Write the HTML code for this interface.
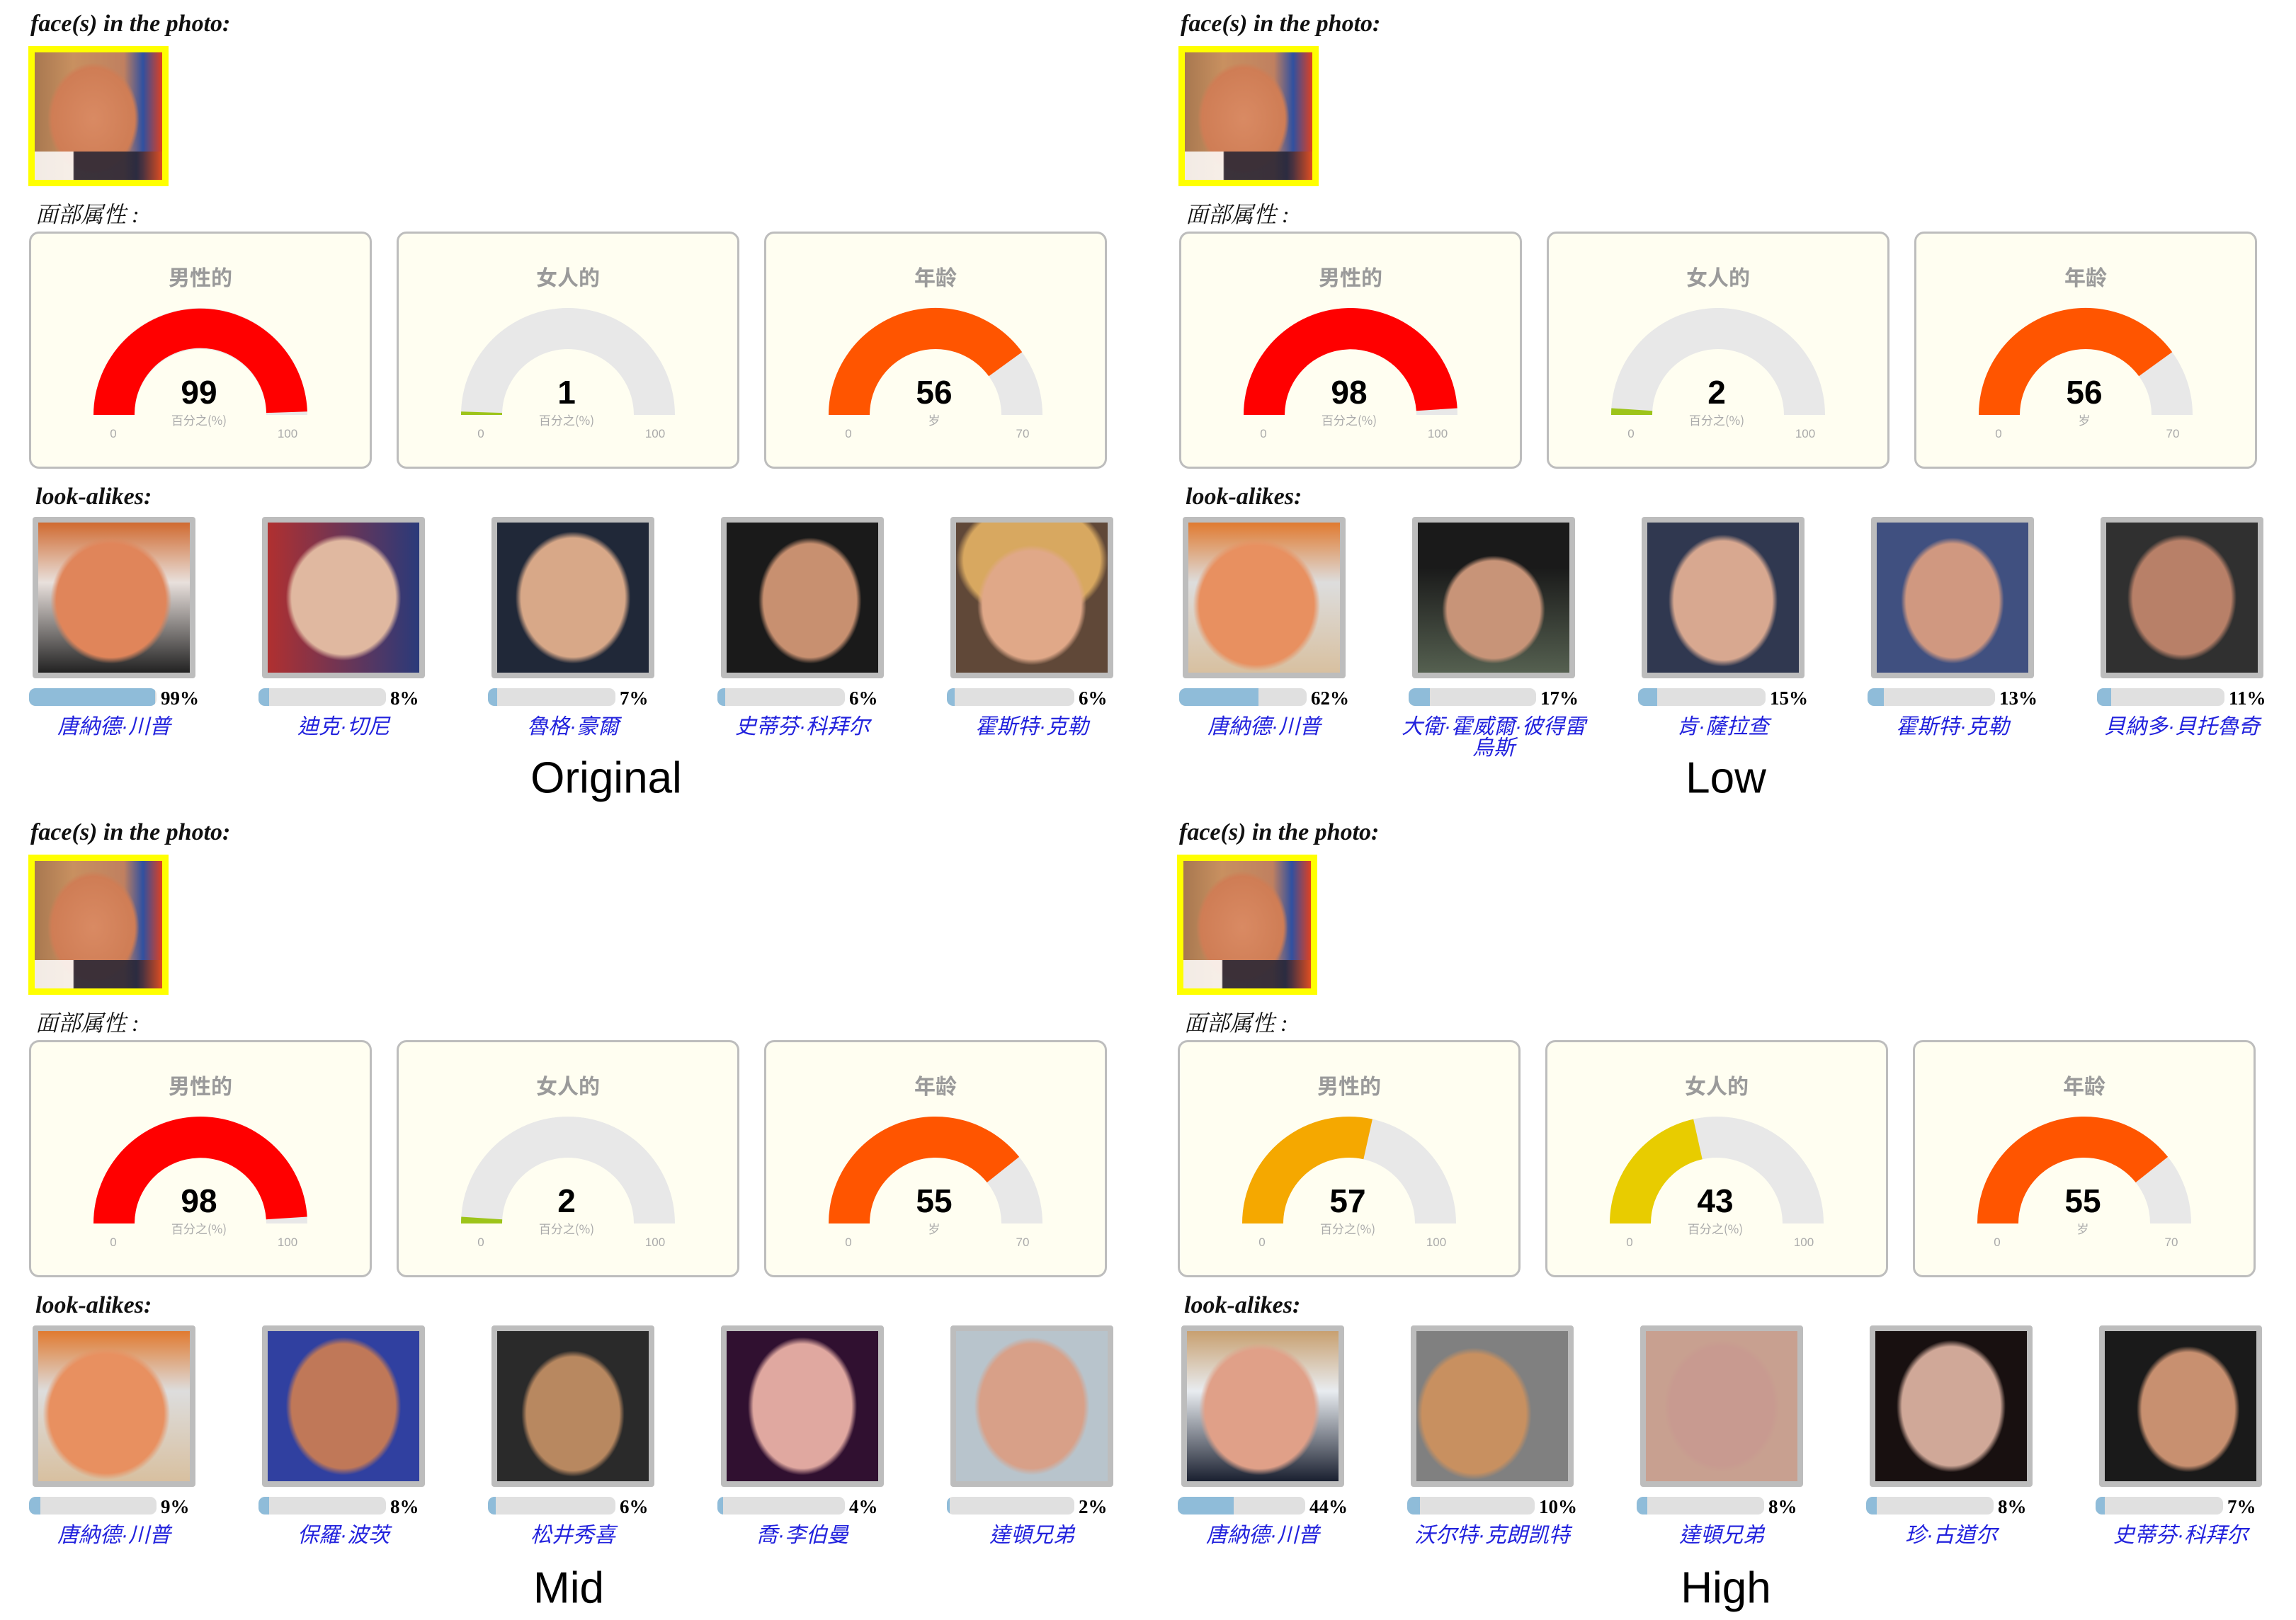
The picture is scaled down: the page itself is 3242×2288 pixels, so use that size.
<!DOCTYPE html>
<html><head><meta charset="utf-8">
<style>
*{margin:0;padding:0;box-sizing:border-box}
body{width:3242px;height:2288px;background:#fff;position:relative;overflow:hidden;font-family:"Liberation Sans","Noto Sans CJK SC",sans-serif}
.p{position:absolute;width:1620px;height:1140px}
.h{position:absolute;font-family:"Liberation Serif","Noto Serif CJK SC",serif;font-style:italic;font-weight:bold;font-size:34px;color:#111;white-space:nowrap}
.h2{position:absolute;font-family:"Liberation Serif","Noto Serif CJK SC",serif;font-style:italic;font-size:32px;color:#111;white-space:nowrap}
.face{position:absolute;left:40px;top:65px;width:198px;height:198px;border:9px solid #ffff00;background:radial-gradient(ellipse 36% 44% at 46% 52%,#d98a63 0,#cf7d55 90%,rgba(0,0,0,0) 100%),linear-gradient(90deg,#a87850 0,#c89060 30%,#c08060 70%,#3050a0 85%,#e04020 100%)}
.face:after{content:"";position:absolute;left:0;right:0;bottom:0;height:40px;background:linear-gradient(90deg,#fff 0,#fff 30%,#223 31%,#223 80%,#e05020 100%);opacity:.85}
.card{position:absolute;top:327px;width:484px;height:335px;border:3px solid #bdbdbd;border-radius:14px;background:#fffef1}
.card svg{position:absolute;left:-4px;top:-2px}
.ct{position:absolute;left:0;width:100%;text-align:center;font-size:30px;font-weight:bold;color:#9a9a9a;font-family:"Noto Sans CJK SC",sans-serif}
.th{position:absolute;top:730px;width:230px;height:228px;border:8px solid #bdbdbd;border-radius:4px}
.bar{position:absolute;top:972px;width:180px;height:25px;border-radius:9px;background:#e0e0e0;overflow:hidden}
.bar i{position:absolute;left:0;top:0;bottom:0;background:#8fbcd9;border-radius:9px 0 0 9px}
.pc{position:absolute;top:971px;font-family:"Liberation Serif",serif;font-weight:bold;font-size:27px;color:#000}
.nm{position:absolute;top:1012px;width:300px;text-align:center;font-family:"Liberation Sans","Noto Sans CJK TC",sans-serif;font-style:italic;font-size:30px;line-height:30px;color:#2222dd}
.lab{position:absolute;font-size:62px;color:#000;transform:translate(-50%,-50%);white-space:nowrap}
</style></head><body>

<!-- Panel 1 Original -->
<div class="p" style="left:0;top:0">
<div class="h" style="left:43px;top:15px">face(s) in the photo:</div>
<div class="face"></div>
<div class="h2" style="left:50px;top:278px">面部属性 :</div>
<div class="card" style="left:41px"><svg width="484" height="335"><path d="M92 258A151 151 0 0 1 394 258L336 258A93 93 0 0 0 150 258Z" fill="#e8e8e8"/><path d="M92 258A151 151 0 0 1 393.9 253.3L336 255.1A93 93 0 0 0 150 258Z" fill="#ff0000"/><text x="241" y="242" text-anchor="middle" font-size="46" font-weight="bold" font-family="Liberation Sans" fill="#000">99</text><text x="241" y="272" text-anchor="middle" font-size="17" fill="#aaa" font-family="Noto Sans CJK SC">百分之(%)</text><text x="120" y="290" text-anchor="middle" font-size="17" fill="#aaa">0</text><text x="366" y="290" text-anchor="middle" font-size="17" fill="#aaa">100</text></svg><div class="ct" style="top:38px">男性的</div></div>
<div class="card" style="left:560px"><svg width="484" height="335"><path d="M92 258A151 151 0 0 1 394 258L336 258A93 93 0 0 0 150 258Z" fill="#e8e8e8"/><path d="M92 258A151 151 0 0 1 92.1 253.3L150 255.1A93 93 0 0 0 150 258Z" fill="#9dc41a"/><text x="241" y="242" text-anchor="middle" font-size="46" font-weight="bold" font-family="Liberation Sans" fill="#000">1</text><text x="241" y="272" text-anchor="middle" font-size="17" fill="#aaa" font-family="Noto Sans CJK SC">百分之(%)</text><text x="120" y="290" text-anchor="middle" font-size="17" fill="#aaa">0</text><text x="366" y="290" text-anchor="middle" font-size="17" fill="#aaa">100</text></svg><div class="ct" style="top:38px">女人的</div></div>
<div class="card" style="left:1079px"><svg width="484" height="335"><path d="M92 258A151 151 0 0 1 394 258L336 258A93 93 0 0 0 150 258Z" fill="#e8e8e8"/><path d="M92 258A151 151 0 0 1 365.2 169.2L318.2 203.3A93 93 0 0 0 150 258Z" fill="#ff5500"/><text x="241" y="242" text-anchor="middle" font-size="46" font-weight="bold" font-family="Liberation Sans" fill="#000">56</text><text x="241" y="272" text-anchor="middle" font-size="17" fill="#aaa" font-family="Noto Sans CJK SC">岁</text><text x="120" y="290" text-anchor="middle" font-size="17" fill="#aaa">0</text><text x="366" y="290" text-anchor="middle" font-size="17" fill="#aaa">70</text></svg><div class="ct" style="top:38px">年龄</div></div>
<div class="h" style="left:50px;top:683px">look-alikes:</div>
<div class="th" style="left:46px;background:radial-gradient(ellipse 40% 42% at 48% 52%,#e0855a 90%,transparent 100%),linear-gradient(#d06a30 0,#e8e0dc 40%,#222 100%)"></div>
<div class="th" style="left:370px;background:radial-gradient(ellipse 38% 42% at 50% 50%,#e0b8a0 90%,transparent 100%),linear-gradient(90deg,#b03030,#2a3a7a)"></div>
<div class="th" style="left:694px;background:radial-gradient(ellipse 38% 44% at 50% 50%,#d8a888 90%,transparent 100%),#202838"></div>
<div class="th" style="left:1018px;background:radial-gradient(ellipse 34% 42% at 55% 52%,#c89070 90%,transparent 100%),#1a1a1a"></div>
<div class="th" style="left:1342px;background:radial-gradient(ellipse 36% 40% at 50% 55%,#e0a888 90%,transparent 100%),radial-gradient(ellipse 50% 40% at 50% 25%,#d8a860 90%,transparent 100%),#604838"></div>
<div class="bar" style="left:41px"><i style="width:99%"></i></div><div class="pc" style="left:227px">99%</div>
<div class="bar" style="left:365px"><i style="width:15px"></i></div><div class="pc" style="left:551px">8%</div>
<div class="bar" style="left:689px"><i style="width:13px"></i></div><div class="pc" style="left:875px">7%</div>
<div class="bar" style="left:1013px"><i style="width:11px"></i></div><div class="pc" style="left:1199px">6%</div>
<div class="bar" style="left:1337px"><i style="width:11px"></i></div><div class="pc" style="left:1523px">6%</div>
<div class="nm" style="left:11px">唐納德·川普</div>
<div class="nm" style="left:335px">迪克·切尼</div>
<div class="nm" style="left:659px">魯格·豪爾</div>
<div class="nm" style="left:983px">史蒂芬·科拜尔</div>
<div class="nm" style="left:1307px">霍斯特·克勒</div>
</div>

<!-- Panel 2 Low -->
<div class="p" style="left:1624px;top:0">
<div class="h" style="left:43px;top:15px">face(s) in the photo:</div>
<div class="face"></div>
<div class="h2" style="left:50px;top:278px">面部属性 :</div>
<div class="card" style="left:41px"><svg width="484" height="335"><path d="M92 258A151 151 0 0 1 394 258L336 258A93 93 0 0 0 150 258Z" fill="#e8e8e8"/><path d="M92 258A151 151 0 0 1 393.7 248.5L335.8 252.2A93 93 0 0 0 150 258Z" fill="#ff0000"/><text x="241" y="242" text-anchor="middle" font-size="46" font-weight="bold" font-family="Liberation Sans" fill="#000">98</text><text x="241" y="272" text-anchor="middle" font-size="17" fill="#aaa" font-family="Noto Sans CJK SC">百分之(%)</text><text x="120" y="290" text-anchor="middle" font-size="17" fill="#aaa">0</text><text x="366" y="290" text-anchor="middle" font-size="17" fill="#aaa">100</text></svg><div class="ct" style="top:38px">男性的</div></div>
<div class="card" style="left:560px"><svg width="484" height="335"><path d="M92 258A151 151 0 0 1 394 258L336 258A93 93 0 0 0 150 258Z" fill="#e8e8e8"/><path d="M92 258A151 151 0 0 1 92.3 248.5L150.2 252.2A93 93 0 0 0 150 258Z" fill="#9dc41a"/><text x="241" y="242" text-anchor="middle" font-size="46" font-weight="bold" font-family="Liberation Sans" fill="#000">2</text><text x="241" y="272" text-anchor="middle" font-size="17" fill="#aaa" font-family="Noto Sans CJK SC">百分之(%)</text><text x="120" y="290" text-anchor="middle" font-size="17" fill="#aaa">0</text><text x="366" y="290" text-anchor="middle" font-size="17" fill="#aaa">100</text></svg><div class="ct" style="top:38px">女人的</div></div>
<div class="card" style="left:1079px"><svg width="484" height="335"><path d="M92 258A151 151 0 0 1 394 258L336 258A93 93 0 0 0 150 258Z" fill="#e8e8e8"/><path d="M92 258A151 151 0 0 1 365.2 169.2L318.2 203.3A93 93 0 0 0 150 258Z" fill="#ff5500"/><text x="241" y="242" text-anchor="middle" font-size="46" font-weight="bold" font-family="Liberation Sans" fill="#000">56</text><text x="241" y="272" text-anchor="middle" font-size="17" fill="#aaa" font-family="Noto Sans CJK SC">岁</text><text x="120" y="290" text-anchor="middle" font-size="17" fill="#aaa">0</text><text x="366" y="290" text-anchor="middle" font-size="17" fill="#aaa">70</text></svg><div class="ct" style="top:38px">年龄</div></div>
<div class="h" style="left:50px;top:683px">look-alikes:</div>
<div class="th" style="left:46px;background:radial-gradient(ellipse 42% 44% at 45% 55%,#e89060 90%,transparent 100%),linear-gradient(#e07a30 0,#ddd 40%,#d8c0a0 100%)"></div>
<div class="th" style="left:370px;background:radial-gradient(ellipse 34% 36% at 50% 58%,#c89478 90%,transparent 100%),linear-gradient(#1a1a1a 0,#1a1a1a 30%,#556050 100%)"></div>
<div class="th" style="left:694px;background:radial-gradient(ellipse 36% 44% at 50% 52%,#d8a890 90%,transparent 100%),#303850"></div>
<div class="th" style="left:1018px;background:radial-gradient(ellipse 34% 42% at 50% 52%,#d09880 90%,transparent 100%),#405080"></div>
<div class="th" style="left:1342px;background:radial-gradient(ellipse 36% 42% at 50% 50%,#b88068 90%,transparent 100%),#303030"></div>
<div class="bar" style="left:41px"><i style="width:62%"></i></div><div class="pc" style="left:227px">62%</div>
<div class="bar" style="left:365px"><i style="width:30px"></i></div><div class="pc" style="left:551px">17%</div>
<div class="bar" style="left:689px"><i style="width:27px"></i></div><div class="pc" style="left:875px">15%</div>
<div class="bar" style="left:1013px"><i style="width:23px"></i></div><div class="pc" style="left:1199px">13%</div>
<div class="bar" style="left:1337px"><i style="width:20px"></i></div><div class="pc" style="left:1523px">11%</div>
<div class="nm" style="left:11px">唐納德·川普</div>
<div class="nm" style="left:335px">大衛·霍威爾·彼得雷<br>烏斯</div>
<div class="nm" style="left:659px">肯·薩拉查</div>
<div class="nm" style="left:983px">霍斯特·克勒</div>
<div class="nm" style="left:1307px">貝納多·貝托魯奇</div>
</div>

<!-- Panel 3 Mid -->
<div class="p" style="left:0;top:1142px">
<div class="h" style="left:43px;top:15px">face(s) in the photo:</div>
<div class="face"></div>
<div class="h2" style="left:50px;top:278px">面部属性 :</div>
<div class="card" style="left:41px"><svg width="484" height="335"><path d="M92 258A151 151 0 0 1 394 258L336 258A93 93 0 0 0 150 258Z" fill="#e8e8e8"/><path d="M92 258A151 151 0 0 1 393.7 248.5L335.8 252.2A93 93 0 0 0 150 258Z" fill="#ff0000"/><text x="241" y="242" text-anchor="middle" font-size="46" font-weight="bold" font-family="Liberation Sans" fill="#000">98</text><text x="241" y="272" text-anchor="middle" font-size="17" fill="#aaa" font-family="Noto Sans CJK SC">百分之(%)</text><text x="120" y="290" text-anchor="middle" font-size="17" fill="#aaa">0</text><text x="366" y="290" text-anchor="middle" font-size="17" fill="#aaa">100</text></svg><div class="ct" style="top:38px">男性的</div></div>
<div class="card" style="left:560px"><svg width="484" height="335"><path d="M92 258A151 151 0 0 1 394 258L336 258A93 93 0 0 0 150 258Z" fill="#e8e8e8"/><path d="M92 258A151 151 0 0 1 92.3 248.5L150.2 252.2A93 93 0 0 0 150 258Z" fill="#9dc41a"/><text x="241" y="242" text-anchor="middle" font-size="46" font-weight="bold" font-family="Liberation Sans" fill="#000">2</text><text x="241" y="272" text-anchor="middle" font-size="17" fill="#aaa" font-family="Noto Sans CJK SC">百分之(%)</text><text x="120" y="290" text-anchor="middle" font-size="17" fill="#aaa">0</text><text x="366" y="290" text-anchor="middle" font-size="17" fill="#aaa">100</text></svg><div class="ct" style="top:38px">女人的</div></div>
<div class="card" style="left:1079px"><svg width="484" height="335"><path d="M92 258A151 151 0 0 1 394 258L336 258A93 93 0 0 0 150 258Z" fill="#e8e8e8"/><path d="M92 258A151 151 0 0 1 361.1 163.9L315.7 200A93 93 0 0 0 150 258Z" fill="#ff5500"/><text x="241" y="242" text-anchor="middle" font-size="46" font-weight="bold" font-family="Liberation Sans" fill="#000">55</text><text x="241" y="272" text-anchor="middle" font-size="17" fill="#aaa" font-family="Noto Sans CJK SC">岁</text><text x="120" y="290" text-anchor="middle" font-size="17" fill="#aaa">0</text><text x="366" y="290" text-anchor="middle" font-size="17" fill="#aaa">70</text></svg><div class="ct" style="top:38px">年龄</div></div>
<div class="h" style="left:50px;top:683px">look-alikes:</div>
<div class="th" style="left:46px;background:radial-gradient(ellipse 42% 44% at 45% 55%,#e89060 90%,transparent 100%),linear-gradient(#e07a30 0,#ddd 40%,#d8c0a0 100%)"></div>
<div class="th" style="left:370px;background:radial-gradient(ellipse 38% 46% at 50% 50%,#c07858 90%,transparent 100%),#3040a0"></div>
<div class="th" style="left:694px;background:radial-gradient(ellipse 34% 42% at 50% 55%,#b88860 90%,transparent 100%),#2a2a2a"></div>
<div class="th" style="left:1018px;background:radial-gradient(ellipse 36% 46% at 50% 50%,#e0a8a0 90%,transparent 100%),#301030"></div>
<div class="th" style="left:1342px;background:radial-gradient(ellipse 38% 46% at 50% 50%,#d8a088 90%,transparent 100%),#b8c4cc"></div>
<div class="bar" style="left:41px"><i style="width:16px"></i></div><div class="pc" style="left:227px">9%</div>
<div class="bar" style="left:365px"><i style="width:15px"></i></div><div class="pc" style="left:551px">8%</div>
<div class="bar" style="left:689px"><i style="width:11px"></i></div><div class="pc" style="left:875px">6%</div>
<div class="bar" style="left:1013px"><i style="width:8px"></i></div><div class="pc" style="left:1199px">4%</div>
<div class="bar" style="left:1337px"><i style="width:4px"></i></div><div class="pc" style="left:1523px">2%</div>
<div class="nm" style="left:11px">唐納德·川普</div>
<div class="nm" style="left:335px">保羅·波茨</div>
<div class="nm" style="left:659px">松井秀喜</div>
<div class="nm" style="left:983px">喬·李伯曼</div>
<div class="nm" style="left:1307px">達頓兄弟</div>
</div>

<!-- Panel 4 High -->
<div class="p" style="left:1622px;top:1142px">
<div class="h" style="left:43px;top:15px">face(s) in the photo:</div>
<div class="face"></div>
<div class="h2" style="left:50px;top:278px">面部属性 :</div>
<div class="card" style="left:41px"><svg width="484" height="335"><path d="M92 258A151 151 0 0 1 394 258L336 258A93 93 0 0 0 150 258Z" fill="#e8e8e8"/><path d="M92 258A151 151 0 0 1 275.9 110.6L263.3 167.2A93 93 0 0 0 150 258Z" fill="#f5a800"/><text x="241" y="242" text-anchor="middle" font-size="46" font-weight="bold" font-family="Liberation Sans" fill="#000">57</text><text x="241" y="272" text-anchor="middle" font-size="17" fill="#aaa" font-family="Noto Sans CJK SC">百分之(%)</text><text x="120" y="290" text-anchor="middle" font-size="17" fill="#aaa">0</text><text x="366" y="290" text-anchor="middle" font-size="17" fill="#aaa">100</text></svg><div class="ct" style="top:38px">男性的</div></div>
<div class="card" style="left:560px"><svg width="484" height="335"><path d="M92 258A151 151 0 0 1 394 258L336 258A93 93 0 0 0 150 258Z" fill="#e8e8e8"/><path d="M92 258A151 151 0 0 1 210.1 110.6L222.7 167.2A93 93 0 0 0 150 258Z" fill="#e8cc00"/><text x="241" y="242" text-anchor="middle" font-size="46" font-weight="bold" font-family="Liberation Sans" fill="#000">43</text><text x="241" y="272" text-anchor="middle" font-size="17" fill="#aaa" font-family="Noto Sans CJK SC">百分之(%)</text><text x="120" y="290" text-anchor="middle" font-size="17" fill="#aaa">0</text><text x="366" y="290" text-anchor="middle" font-size="17" fill="#aaa">100</text></svg><div class="ct" style="top:38px">女人的</div></div>
<div class="card" style="left:1079px"><svg width="484" height="335"><path d="M92 258A151 151 0 0 1 394 258L336 258A93 93 0 0 0 150 258Z" fill="#e8e8e8"/><path d="M92 258A151 151 0 0 1 361.1 163.9L315.7 200A93 93 0 0 0 150 258Z" fill="#ff5500"/><text x="241" y="242" text-anchor="middle" font-size="46" font-weight="bold" font-family="Liberation Sans" fill="#000">55</text><text x="241" y="272" text-anchor="middle" font-size="17" fill="#aaa" font-family="Noto Sans CJK SC">岁</text><text x="120" y="290" text-anchor="middle" font-size="17" fill="#aaa">0</text><text x="366" y="290" text-anchor="middle" font-size="17" fill="#aaa">70</text></svg><div class="ct" style="top:38px">年龄</div></div>
<div class="h" style="left:50px;top:683px">look-alikes:</div>
<div class="th" style="left:46px;background:radial-gradient(ellipse 40% 44% at 48% 52%,#e0a088 90%,transparent 100%),linear-gradient(#c8a070,#e8ecf0 40%,#1a2030 100%)"></div>
<div class="th" style="left:370px;background:radial-gradient(ellipse 38% 44% at 38% 55%,#c89060 90%,transparent 100%),#808080"></div>
<div class="th" style="left:694px;background:radial-gradient(ellipse 38% 44% at 50% 50%,#c89a90 90%,transparent 100%),#c8a090"></div>
<div class="th" style="left:1018px;background:radial-gradient(ellipse 36% 44% at 50% 50%,#d0a898 90%,transparent 100%),#181010"></div>
<div class="th" style="left:1342px;background:radial-gradient(ellipse 34% 42% at 55% 52%,#c89070 90%,transparent 100%),#1a1a1a"></div>
<div class="bar" style="left:41px"><i style="width:44%"></i></div><div class="pc" style="left:227px">44%</div>
<div class="bar" style="left:365px"><i style="width:18px"></i></div><div class="pc" style="left:551px">10%</div>
<div class="bar" style="left:689px"><i style="width:15px"></i></div><div class="pc" style="left:875px">8%</div>
<div class="bar" style="left:1013px"><i style="width:15px"></i></div><div class="pc" style="left:1199px">8%</div>
<div class="bar" style="left:1337px"><i style="width:13px"></i></div><div class="pc" style="left:1523px">7%</div>
<div class="nm" style="left:11px">唐納德·川普</div>
<div class="nm" style="left:335px">沃尔特·克朗凯特</div>
<div class="nm" style="left:659px">達頓兄弟</div>
<div class="nm" style="left:983px">珍·古道尔</div>
<div class="nm" style="left:1307px">史蒂芬·科拜尔</div>
</div>

<div class="lab" style="left:856px;top:1099px">Original</div>
<div class="lab" style="left:2437px;top:1099px">Low</div>
<div class="lab" style="left:803px;top:2243px">Mid</div>
<div class="lab" style="left:2437px;top:2243px">High</div>
</body></html>
